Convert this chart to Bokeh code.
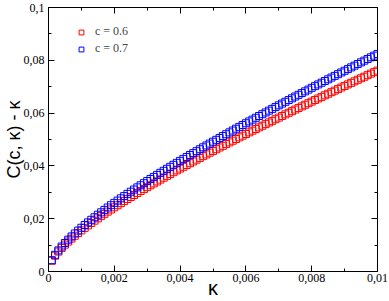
from bokeh.plotting import figure
from bokeh.models import (LinearAxis, FixedTicker, CustomJSTickFormatter, Legend,
                          LegendItem, Range1d)
from bokeh.embed import file_html
from bokeh.resources import INLINE

kappa = [0.0001, 0.0002, 0.0003, 0.0004, 0.0005, 0.0006, 0.0007, 0.0008, 0.0009, 0.0010,
         0.0011, 0.0012, 0.0013, 0.0014, 0.0015, 0.0016, 0.0017, 0.0018, 0.0019, 0.0020,
         0.0021, 0.0022, 0.0023, 0.0024, 0.0025, 0.0026, 0.0027, 0.0028, 0.0029, 0.0030,
         0.0031, 0.0032, 0.0033, 0.0034, 0.0035, 0.0036, 0.0037, 0.0038, 0.0039, 0.0040,
         0.0041, 0.0042, 0.0043, 0.0044, 0.0045, 0.0046, 0.0047, 0.0048, 0.0049, 0.0050,
         0.0051, 0.0052, 0.0053, 0.0054, 0.0055, 0.0056, 0.0057, 0.0058, 0.0059, 0.0060,
         0.0061, 0.0062, 0.0063, 0.0064, 0.0065, 0.0066, 0.0067, 0.0068, 0.0069, 0.0070,
         0.0071, 0.0072, 0.0073, 0.0074, 0.0075, 0.0076, 0.0077, 0.0078, 0.0079, 0.0080,
         0.0081, 0.0082, 0.0083, 0.0084, 0.0085, 0.0086, 0.0087, 0.0088, 0.0089, 0.0090,
         0.0091, 0.0092, 0.0093, 0.0094, 0.0095, 0.0096, 0.0097, 0.0098, 0.0099, 0.0100]

c06 = [0.00407, 0.00599, 0.00755, 0.00893, 0.01019, 0.01136, 0.01248, 0.01354, 0.01457, 0.01556,
       0.01652, 0.01746, 0.01837, 0.01926, 0.02014, 0.02100, 0.02184, 0.02268, 0.02350, 0.02431,
       0.02511, 0.02590, 0.02668, 0.02745, 0.02822, 0.02897, 0.02972, 0.03047, 0.03121, 0.03194,
       0.03266, 0.03338, 0.03410, 0.03481, 0.03552, 0.03622, 0.03692, 0.03761, 0.03830, 0.03899,
       0.03967, 0.04035, 0.04102, 0.04169, 0.04236, 0.04303, 0.04369, 0.04435, 0.04501, 0.04566,
       0.04632, 0.04697, 0.04761, 0.04826, 0.04890, 0.04954, 0.05018, 0.05081, 0.05145, 0.05208,
       0.05271, 0.05334, 0.05396, 0.05459, 0.05521, 0.05583, 0.05645, 0.05706, 0.05768, 0.05829,
       0.05891, 0.05952, 0.06013, 0.06073, 0.06134, 0.06195, 0.06255, 0.06315, 0.06375, 0.06435,
       0.06495, 0.06555, 0.06614, 0.06674, 0.06733, 0.06792, 0.06851, 0.06910, 0.06969, 0.07028,
       0.07087, 0.07145, 0.07204, 0.07262, 0.07320, 0.07378, 0.07437, 0.07494, 0.07552, 0.07610]

c07 = [0.00429, 0.00632, 0.00799, 0.00946, 0.01080, 0.01206, 0.01326, 0.01440, 0.01550, 0.01657,
       0.01760, 0.01860, 0.01959, 0.02055, 0.02150, 0.02242, 0.02334, 0.02424, 0.02512, 0.02600,
       0.02686, 0.02772, 0.02856, 0.02940, 0.03023, 0.03105, 0.03186, 0.03266, 0.03346, 0.03426,
       0.03505, 0.03583, 0.03660, 0.03738, 0.03814, 0.03890, 0.03966, 0.04042, 0.04116, 0.04191,
       0.04265, 0.04339, 0.04412, 0.04485, 0.04558, 0.04631, 0.04703, 0.04775, 0.04846, 0.04917,
       0.04988, 0.05059, 0.05130, 0.05200, 0.05270, 0.05340, 0.05409, 0.05478, 0.05547, 0.05616,
       0.05685, 0.05753, 0.05822, 0.05890, 0.05958, 0.06025, 0.06093, 0.06160, 0.06227, 0.06294,
       0.06361, 0.06428, 0.06494, 0.06560, 0.06627, 0.06693, 0.06759, 0.06824, 0.06890, 0.06956,
       0.07021, 0.07086, 0.07151, 0.07216, 0.07281, 0.07346, 0.07410, 0.07475, 0.07539, 0.07603,
       0.07668, 0.07732, 0.07796, 0.07859, 0.07923, 0.07987, 0.08050, 0.08114, 0.08177, 0.08240]

series_labels = ["c = 0.6", "c = 0.7"]
x_ticks = [0, 0.002, 0.004, 0.006, 0.008, 0.01]
x_minor = [0.001, 0.003, 0.005, 0.007, 0.009]
y_ticks = [0, 0.02, 0.04, 0.06, 0.08, 0.1]
y_minor = [0.01, 0.03, 0.05, 0.07, 0.09]

p = figure(width=389, height=301, x_range=Range1d(0, 0.01), y_range=Range1d(0, 0.1),
           x_axis_type=None, y_axis_type=None, output_backend="svg",
           toolbar_location=None, min_border_left=48, min_border_right=12,
           min_border_top=7, min_border_bottom=30)
p.xgrid.visible = False
p.ygrid.visible = False
p.outline_line_color = "black"
p.outline_line_width = 1
p.background_fill_color = "white"
p.border_fill_color = "white"

fmt = CustomJSTickFormatter(code="""
const r = Math.round(tick * 10000) / 10000;
return String(r).replace('.', ',');
""")
blank = CustomJSTickFormatter(code="return '';")

def style_axis(ax):
    ax.major_tick_in = 6
    ax.major_tick_out = 0
    ax.minor_tick_in = 3
    ax.minor_tick_out = 0
    ax.axis_line_color = "black"
    ax.major_tick_line_color = "black"
    ax.minor_tick_line_color = "black"
    ax.major_label_text_font = "Liberation Serif"
    ax.major_label_text_font_size = "12px"
    ax.major_label_text_color = "black"
    ax.axis_label_text_font = "Liberation Sans"
    ax.axis_label_text_font_style = "normal"
    ax.axis_label_text_color = "black"

xb = LinearAxis(ticker=FixedTicker(ticks=x_ticks, minor_ticks=x_minor), formatter=fmt,
                axis_label="κ")
style_axis(xb)
xb.major_label_standoff = 2
xb.axis_label_standoff = -8
xb.axis_label_text_font_size = "20px"
p.add_layout(xb, "below")

xt = LinearAxis(ticker=FixedTicker(ticks=x_ticks, minor_ticks=x_minor), formatter=blank)
style_axis(xt)
xt.major_label_standoff = 0
p.add_layout(xt, "above")

yl = LinearAxis(ticker=FixedTicker(ticks=y_ticks, minor_ticks=y_minor), formatter=fmt,
                axis_label="C(c, κ) - κ")
style_axis(yl)
yl.major_label_standoff = 4
yl.axis_label_standoff = -3
yl.axis_label_text_font_size = "18px"
p.add_layout(yl, "left")

yr = LinearAxis(ticker=FixedTicker(ticks=y_ticks, minor_ticks=y_minor), formatter=blank)
style_axis(yr)
yr.major_label_standoff = 0
p.add_layout(yr, "right")

r1 = p.scatter(kappa, c06, marker="square", size=7, fill_color=None,
               line_color="#ff0000", line_width=1)
r2 = p.scatter(kappa, c07, marker="square", size=7, fill_color=None,
               line_color="#0000ff", line_width=1)

legend = Legend(items=[LegendItem(label=series_labels[0], renderers=[r1]),
                       LegendItem(label=series_labels[1], renderers=[r2])],
                location=(27, 215), glyph_width=12, glyph_height=12, label_height=12,
                spacing=2, padding=0, margin=0, border_line_color=None,
                background_fill_alpha=0, label_text_font="Liberation Serif",
                label_text_font_size="12px", label_standoff=8)
p.add_layout(legend)

open("out.html", "w").write(file_html(p, INLINE))
